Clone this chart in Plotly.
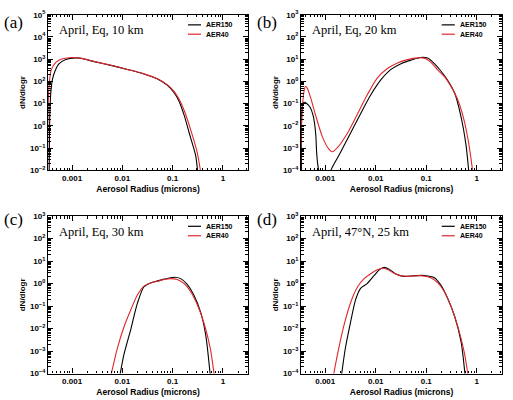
import plotly.graph_objects as go

# ---------------- data (radius in microns, dN/dlogr) ----------------
# (a) April, Eq, 10 km
a_r150 = [3.49e-4, 3.6e-4, 3.77e-4, 4.07e-4, 4.53e-4, 5.52e-4, 7.48e-4, 1.18e-3, 1.48e-3, 2.75e-3,
          5.9e-3, 0.0126, 0.0269, 0.050, 0.078, 0.107, 0.135, 0.170, 0.229, 0.288, 0.316]
a_n150 = [3e-3, 3.16, 31.6, 126, 282, 631, 977, 1150, 1100, 780,
          530, 345, 218, 130, 68, 31, 12.6, 2.95, 0.28, 0.045, 0.008]
a_r40 = [3.24e-4, 3.33e-4, 3.49e-4, 3.83e-4, 4.79e-4, 6.46e-4, 1.0e-3, 1.48e-3, 2.75e-3, 5.89e-3,
         0.0126, 0.0269, 0.050, 0.078, 0.107, 0.135, 0.170, 0.229, 0.309, 0.363]
a_n40 = [3e-3, 6.9, 72, 324, 741, 1050, 1200, 1120, 794, 537,
         347, 219, 132, 72, 36, 15.8, 4.9, 0.66, 0.063, 0.008]

# (b) April, Eq, 20 km
b_r150 = [3.39e-4, 3.49e-4, 3.77e-4, 4.27e-4, 5.01e-4, 5.75e-4, 6.46e-4, 6.76e-4, 7.08e-4, 7.76e-4,
          1.0e-3, 1.29e-3, 2.0e-3, 3.16e-3, 5.01e-3, 7.94e-3, 0.0126, 0.020, 0.0316, 0.050,
          0.0776, 0.107, 0.145, 0.195, 0.263, 0.363, 0.490, 0.617, 0.692, 0.724]
b_n150 = [6e-5, 0.069, 0.115, 0.102, 0.069, 0.0295, 4.7e-3, 6.3e-4, 1.95e-4, 6e-5,
          1e-5, 1e-4, 6.3e-4, 4.7e-3, 0.0355, 0.245, 1.17, 3.47, 6.3, 9.1,
          12.0, 11.2, 6.3, 2.95, 1.17, 0.31, 0.0251, 1.23e-3, 1e-4, 3e-5]
b_r40 = [3.24e-4, 3.41e-4, 3.72e-4, 4.07e-4, 4.37e-4, 5.13e-4, 6.46e-4, 8.71e-4, 1.17e-3, 1.38e-3,
         1.74e-3, 2.75e-3, 4.37e-3, 6.76e-3, 0.0107, 0.0170, 0.0269, 0.0427, 0.0676, 0.0912,
         0.123, 0.170, 0.229, 0.309, 0.417, 0.562, 0.708, 0.851]
b_n40 = [6e-5, 0.0129, 0.263, 0.603, 0.513, 0.186, 0.0295, 3.39e-3, 9.3e-4, 6.9e-4,
         1.05e-3, 4.7e-3, 0.0355, 0.245, 1.41, 3.8, 6.76, 9.55, 11.5, 11.2,
         7.4, 3.24, 1.66, 0.60, 0.158, 0.0178, 1.23e-3, 6e-5]

# (c) April, Eq, 30 km
c_r150 = [8.91e-3, 0.0107, 0.0148, 0.020, 0.0269, 0.0363, 0.050, 0.0676, 0.107, 0.145,
          0.195, 0.263, 0.363, 0.457, 0.562]
c_n150 = [8e-5, 6.8e-4, 9.8e-3, 0.138, 0.724, 1.07, 1.32, 1.58, 1.91, 1.66,
          0.93, 0.316, 0.0513, 5.0e-3, 8e-5]
c_r40 = [5.89e-3, 7.94e-3, 0.0107, 0.0148, 0.020, 0.0269, 0.0363, 0.050, 0.0676, 0.0912,
         0.123, 0.170, 0.229, 0.309, 0.417, 0.562, 0.676]
c_n40 = [8e-5, 1.32e-3, 0.0115, 0.0708, 0.316, 0.776, 1.07, 1.26, 1.51, 1.66,
         1.51, 1.0, 0.436, 0.117, 0.0186, 1.32e-3, 8e-5]

# (d) April, 47N, 25 km
d_r150 = [2.09e-3, 2.51e-3, 3.16e-3, 3.98e-3, 5.01e-3, 6.76e-3, 9.33e-3, 0.0117, 0.0148, 0.0186,
          0.0251, 0.0363, 0.0575, 0.0912, 0.145, 0.195, 0.263, 0.363, 0.490, 0.589]
d_n150 = [8e-5, 1.41e-3, 0.0186, 0.19, 0.617, 1.0, 2.29, 4.07, 5.25, 4.27,
          2.69, 2.09, 2.24, 2.29, 1.82, 0.85, 0.229, 0.0363, 2.57e-3, 8e-5]
d_r40 = [1.45e-3, 1.74e-3, 2.34e-3, 3.16e-3, 4.37e-3, 5.89e-3, 7.94e-3, 0.0107, 0.0135, 0.0170,
         0.0229, 0.0339, 0.050, 0.0776, 0.123, 0.170, 0.229, 0.309, 0.417, 0.562, 0.676]
d_n40 = [8e-5, 6.8e-4, 0.0135, 0.138, 0.724, 1.66, 2.75, 4.07, 4.79, 4.27,
         2.88, 2.14, 2.14, 2.24, 1.82, 1.07, 0.436, 0.10, 0.0135, 9.5e-4, 8e-5]

panel_titles = ["April, Eq, 10 km", "April, Eq, 20 km", "April, Eq, 30 km", "April, 47°N, 25 km"]
panel_letters = ["(a)", "(b)", "(c)", "(d)"]
series_names = ["AER150", "AER40"]
series_colors = ["#000000", "#e0262c"]
x_tickvals = [0.001, 0.01, 0.1, 1]
x_ticktext = ["0.001", "0.01", "0.1", "1"]
y_exp_ranges = [(-2, 5), (-4, 3), (-4, 3), (-4, 3)]

panels = [
    (a_r150, a_n150, a_r40, a_n40),
    (b_r150, b_n150, b_r40, b_n40),
    (c_r150, c_n150, c_r40, c_n40),
    (d_r150, d_n150, d_r40, d_n40),
]

W, H = 513, 400
# plot-box pixel positions (left, right, top, bottom)
boxes = [(48, 248, 9, 169), (301, 502, 9, 169), (48, 248, 216, 378), (301, 502, 216, 378)]
letter_pos = [(13.5, 17), (267, 17), (13.5, 220), (267, 220)]

fig = go.Figure()

tick_font = dict(family="Liberation Sans", size=8, color="black", weight="bold")
title_font = dict(family="Liberation Sans", size=8.5, color="black", weight="bold")

def sup(k):
    return "10<sup>" + (str(k) if k >= 0 else "\u2212" + str(-k)) + "</sup>"

for i, (r150, n150, r40, n40) in enumerate(panels):
    sfx = "" if i == 0 else str(i + 1)
    xa, ya = "x" + sfx, "y" + sfx
    for r, n, name, col in [(r150, n150, series_names[0], series_colors[0]),
                            (r40, n40, series_names[1], series_colors[1])]:
        fig.add_trace(go.Scatter(
            x=r, y=n, mode="lines", name=name, showlegend=False,
            line=dict(color=col, width=1.1, shape="spline", smoothing=0.7),
            xaxis=xa, yaxis=ya, cliponaxis=True))
    l, rgt, t, b = boxes[i]
    lo, hi = y_exp_ranges[i]
    common = dict(type="log", showline=True, linecolor="black", linewidth=1.3,
                  mirror="allticks", ticks="inside", ticklen=5, tickwidth=1, tickcolor="black",
                  showgrid=False, zeroline=False, tickfont=tick_font,
                  minor=dict(ticks="inside", ticklen=2.5, tickwidth=0.8, tickcolor="black",
                             dtick="D1", showgrid=False))
    fig.update_layout(**{
        "xaxis" + sfx: dict(common, domain=[l / W, rgt / W], range=[-3.48, 0.5],
                             tickvals=x_tickvals, ticktext=x_ticktext, anchor=ya,
                             title=dict(text="Aerosol Radius (microns)", font=title_font, standoff=3)),
        "yaxis" + sfx: dict(common, domain=[1 - b / H, 1 - t / H], range=[lo, hi],
                             tickvals=[10 ** k for k in range(lo, hi + 1)],
                             ticktext=[sup(k) for k in range(lo, hi + 1)], anchor=xa,
                             title=dict(text="dN/dlogr", font=tick_font, standoff=3)),
    })
    xd, yd = xa + " domain", ya + " domain"
    fig.add_annotation(xref=xd, yref=yd, x=0.045, y=0.9, xanchor="left", yanchor="middle",
                       text=panel_titles[i], showarrow=False,
                       font=dict(family="Liberation Serif", size=12.5, color="black"))
    lx, ly = letter_pos[i]
    fig.add_annotation(xref="paper", yref="paper", x=lx / W, y=1 - ly / H,
                       xanchor="center", yanchor="middle", text=panel_letters[i], showarrow=False,
                       font=dict(family="Liberation Serif", size=17, color="black"))
    # legend (short line samples + labels)
    for j, yy in enumerate([0.935, 0.875]):
        fig.add_shape(type="line", xref=xd, yref=yd, x0=0.70, x1=0.765, y0=yy, y1=yy,
                      line=dict(color=series_colors[j], width=1.2))
        fig.add_annotation(xref=xd, yref=yd, x=0.785, y=yy, xanchor="left", yanchor="middle",
                           text=series_names[j], showarrow=False, borderpad=0,
                           font=dict(family="Liberation Sans", size=7, color="black", weight="bold"))

fig.update_layout(width=W, height=H, margin=dict(l=0, r=0, t=0, b=0),
                  paper_bgcolor="white", plot_bgcolor="white", showlegend=False)

fig.write_html("out.html")
